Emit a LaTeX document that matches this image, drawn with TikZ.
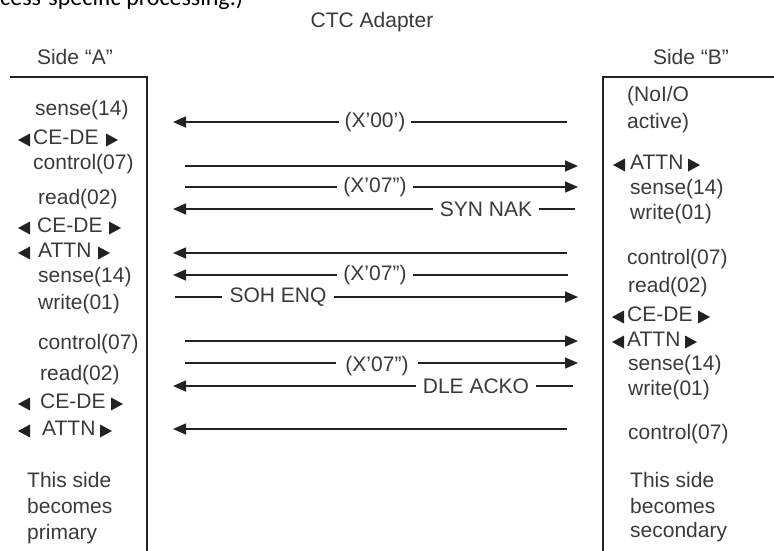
\documentclass[tikz,border=0pt]{standalone}
\usepackage{fontspec}
\setmainfont{Liberation Sans}
\newfontfamily\calib{Carlito}
\usetikzlibrary{arrows.meta}
\definecolor{ink}{HTML}{3A3A3A}
\definecolor{wire}{HTML}{222222}
\newcommand\ltri[2]{\fill[wire] ({#1},{#2}) -- ({#1+12},{#2-6.5}) -- ({#1+12},{#2+6.5}) -- cycle;}
\newcommand\rtri[2]{\fill[wire] ({#1},{#2-6.5}) -- ({#1+12},{#2}) -- ({#1},{#2+6.5}) -- cycle;}
\begin{document}
\begin{tikzpicture}[x=1pt,y=-1pt,
  txt/.style={inner sep=0pt, anchor=mid west, text=ink, font=\fontsize{21}{21}\selectfont},
  head/.style={inner sep=0pt, text=ink, font=\fontsize{21}{21}\selectfont},
  lbl/.style={fill=white, inner ysep=1pt, inner xsep=6pt, text=ink, font=\fontsize{21}{21}\selectfont},
  flow/.style={draw=wire, line width=1.6pt, -{Triangle[length=13pt,width=11pt]}},
  wall/.style={draw=wire, line width=2pt, line join=miter}]
\useasboundingbox (0,0) rectangle (774,550);
\clip (0,0) rectangle (774,550);

% clipped caption line at the top
\node[inner sep=0pt, anchor=base west, text=black, font=\calib\fontsize{24}{24}\selectfont] (cap) at (0,5) {cess-specific processing.)};

% headers
\node[head] (ctc) at (372,22) {CTC Adapter};
\node[head] (sa) at (75,57) {Side “A”};
\node[head] (sb) at (691,57) {Side “B”};

% side walls
\draw[wall] (10,77) -- (147,77) -- (147,553);
\draw[wall] (777,77) -- (603,77) -- (603,553);

% left column
\node[txt] (l1) at (35,113) {sense(14)};
\ltri{18}{140}\node[txt] (l2) at (33,142) {CE-DE};\rtri{106}{140}
\node[txt] (l3) at (33,167) {control(07)};
\node[txt] (l4) at (38,202) {read(02)};
\ltri{18}{228}\node[txt] (l5) at (37,230) {CE-DE};\rtri{109}{228}
\ltri{18}{253}\node[txt] (l6) at (38,255) {ATTN};\rtri{98}{253}
\node[txt] (l7) at (38,280) {sense(14)};
\node[txt] (l8) at (38,307) {write(01)};
\node[txt] (l9) at (38,347) {control(07)};
\node[txt] (l10) at (40,378) {read(02)};
\ltri{18}{404}\node[txt] (l11) at (40,406) {CE-DE};\rtri{111}{404}
\ltri{18}{431}\node[txt] (l12) at (42,433) {ATTN};\rtri{100}{431}
\node[txt] (l13) at (27,485) {This side};
\node[txt] (l14) at (27,511) {becomes};
\node[txt] (l15) at (27,537) {primary};

% right column
\node[txt] (r1) at (627,99) {(NoI/O};
\node[txt] (r2) at (627,126) {active)};
\ltri{613}{165}\node[txt] (r3) at (630,167) {ATTN};\rtri{688}{165}
\node[txt] (r4) at (630,192) {sense(14)};
\node[txt] (r5) at (630,217) {write(01)};
\node[txt] (r6) at (627,262) {control(07)};
\node[txt] (r7) at (628,290) {read(02)};
\ltri{612}{317}\node[txt] (r8) at (627,319) {CE-DE};\rtri{698}{317}
\ltri{612}{342}\node[txt] (r9) at (627,344) {ATTN};\rtri{685}{342}
\node[txt] (r10) at (628,368) {sense(14)};
\node[txt] (r11) at (628,393) {write(01)};
\node[txt] (r12) at (628,437) {control(07)};
\node[txt] (r13) at (630,485) {This side};
\node[txt] (r14) at (630,511) {becomes};
\node[txt] (r15) at (630,535) {secondary};

% arrow end points
\coordinate (a1s) at (567,122); \coordinate (a1e) at (173,122);
\coordinate (a2s) at (185,166); \coordinate (a2e) at (578,166);
\coordinate (a3s) at (185,187); \coordinate (a3e) at (578,187);
\coordinate (a4s) at (575,209); \coordinate (a4e) at (173,209);
\coordinate (a5s) at (567,253); \coordinate (a5e) at (173,253);
\coordinate (a6s) at (568,275); \coordinate (a6e) at (173,275);
\coordinate (a7s) at (175,297); \coordinate (a7e) at (578,297);
\coordinate (a8s) at (185,341); \coordinate (a8e) at (578,341);
\coordinate (a9s) at (185,363); \coordinate (a9e) at (578,363);
\coordinate (a10s) at (573,386); \coordinate (a10e) at (173,386);
\coordinate (a11s) at (567,429); \coordinate (a11e) at (173,429);

% arrows
\draw[flow] (a1s) -- (a1e);
\draw[flow] (a2s) -- (a2e);
\draw[flow] (a3s) -- (a3e);
\draw[flow] (a4s) -- (a4e);
\draw[flow] (a5s) -- (a5e);
\draw[flow] (a6s) -- (a6e);
\draw[flow] (a7s) -- (a7e);
\draw[flow] (a8s) -- (a8e);
\draw[flow] (a9s) -- (a9e);
\draw[flow] (a10s) -- (a10e);
\draw[flow] (a11s) -- (a11e);

% arrow labels
\node[lbl] (t1) at (375,122) {(X’00’)};
\node[lbl] (t3) at (375,187) {(X’07”)};
\node[lbl, inner xsep=7pt] (t4) at (486,209) {SYN NAK};
\node[lbl] (t6) at (375,275) {(X’07”)};
\node[lbl, inner xsep=8pt] (t7) at (278,297) {SOH ENQ};
\node[lbl, inner xsep=9pt] (t9) at (377,366) {(X’07”)};
\node[lbl, inner xsep=7pt] (t10) at (476,386) {DLE ACKO};
\end{tikzpicture}
\end{document}
